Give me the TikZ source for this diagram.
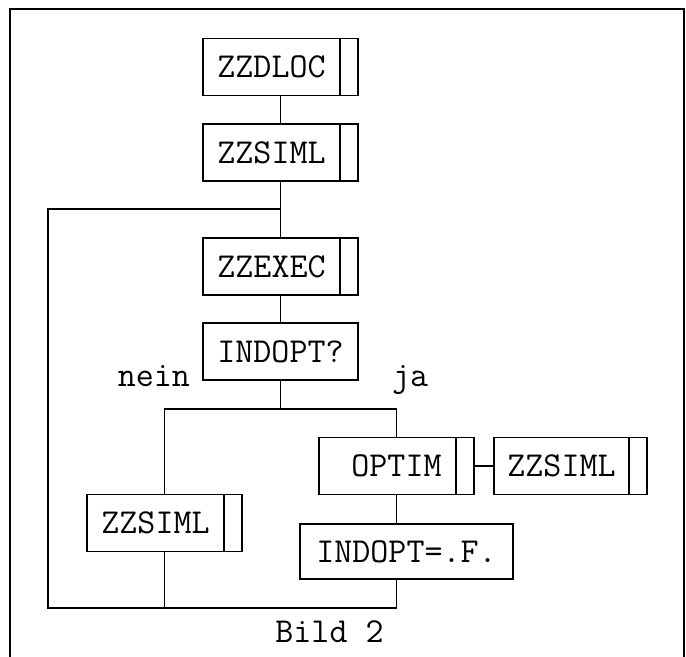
\documentclass[tikz,border=0pt]{standalone}
\usepackage{tikz}
\usetikzlibrary{calc,positioning}
\tikzset{
  verb/.style={line width=0.9pt},
  abfrage/.style={draw, line width=0.9pt, minimum width=77.5pt, minimum height=28.5pt, inner sep=0pt},
  modul/.style={abfrage,
    path picture={\draw[line width=0.9pt] ([xshift=-9pt]path picture bounding box.north east)
      -- ([xshift=-9pt]path picture bounding box.south east);}}
}

\begin{document}
\begin{tikzpicture}[x=0.5pt, y=-0.5pt, every node/.style={font=\ttfamily\fontsize{17.5}{20}\selectfont}]
  \useasboundingbox (0,0) rectangle (686,657);
  % Rahmen, unten offen
  \draw[line width=1pt] (10,657) -- (10,9) -- (684,9) -- (684,657);

  \node[modul] (dloc) at (280.5,67) {ZZDLOC\hspace*{9pt}};
  \node[modul] (siml) at (280.5,152.5) {ZZSIML\hspace*{9pt}};
  \node[modul] (exec) at (280.5,266.5) {ZZEXEC\hspace*{9pt}};
  \node[abfrage] (frage) at (280.5,351.5) {INDOPT?};
  \node[modul] (optim) at (396.5,466) {OPTIM};
  \node[modul, minimum width=76.5pt] (simlr) at (570.5,466) {ZZSIML\hspace*{9pt}};
  \node[modul] (simll) at (164.5,523) {ZZSIML\hspace*{9pt}};
  \node[abfrage, minimum width=106.5pt, minimum height=27.5pt] (setf) at (406.5,551.5) {INDOPT=.F.};

  \node[anchor=base east] (nein) at (197,387) {nein};
  \node[anchor=base west] (ja) at (385,387) {ja};
  \node[anchor=base] (titel) at (329.5,643) {Bild 2};

  \coordinate (loop) at (280.5,209);
  \coordinate (split) at (280.5,409);
  \coordinate (merge) at (48,608);

  \draw[verb] (dloc) -- (siml);
  \draw[verb] (siml) -- (exec);
  \draw[verb] (exec) -- (frage);
  \draw[verb] (frage) -- (split);
  \draw[verb] (simll.north) |- (split) -| (optim.north);
  \draw[verb] (optim) -- (simlr);
  \draw[verb] (optim) -- (optim |- setf.north);
  % Ruecksprung
  \draw[verb] (simll) -- (simll |- merge);
  \draw[verb] (optim |- setf.south) |- (merge) |- (loop);
\end{tikzpicture}
\end{document}
